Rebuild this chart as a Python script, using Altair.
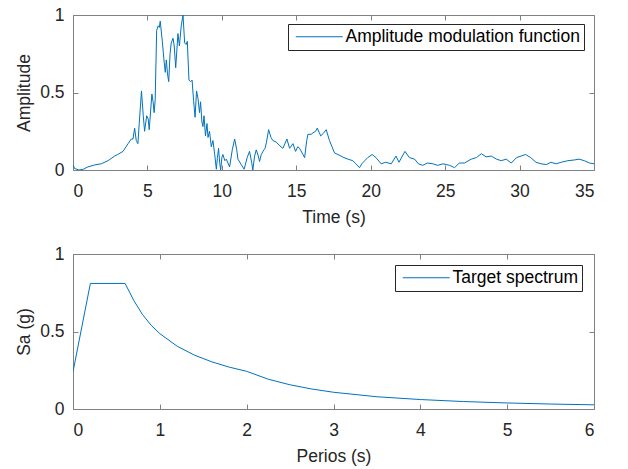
import altair as alt
import pandas as pd

# ---- data: amplitude modulation function ----
time_s = [0.0, 0.1, 0.4, 0.7, 1.0, 1.47, 1.9, 2.35, 2.8, 3.0, 3.36, 3.7, 3.92, 4.03,
          4.14, 4.25, 4.36, 4.45, 4.6, 4.72, 4.81, 4.95, 5.05, 5.12, 5.3, 5.38, 5.45,
          5.52, 5.62, 5.72, 5.8, 5.86, 6.0, 6.1, 6.2, 6.27, 6.35, 6.43, 6.52, 6.6,
          6.72, 6.8, 6.9, 7.05, 7.15, 7.27, 7.39, 7.5, 7.6, 7.68, 7.79, 7.9, 8.0,
          8.1, 8.2, 8.3, 8.4, 8.5, 8.57, 8.66, 8.73, 8.8, 8.9, 9.0, 9.07, 9.17,
          9.29, 9.4, 9.52, 9.63, 9.7, 9.78, 9.85, 9.92, 10.0, 10.07, 10.2, 10.3,
          10.52, 10.7, 10.86, 11.0, 11.08, 11.3, 11.5, 11.7, 11.86, 12.0, 12.08,
          12.2, 12.31, 12.45, 12.53, 12.65, 12.76, 12.9, 13.0, 13.14, 13.3, 13.43,
          13.65, 13.85, 14.1, 14.37, 14.55, 14.78, 14.95, 15.1, 15.22, 15.45,
          15.56, 15.7, 15.78, 16.0, 16.12, 16.3, 16.41, 16.55, 16.64, 16.85,
          17.01, 17.23, 17.4, 17.57, 17.8, 18.0, 18.2, 18.47, 18.8, 19.0, 19.25,
          19.4, 19.6, 19.8, 20.1, 20.35, 20.7, 21.0, 21.38, 21.7, 21.9, 22.3,
          22.6, 22.95, 23.2, 23.5, 23.8, 24.18, 24.5, 24.85, 25.3, 25.63, 25.95,
          26.3, 26.75, 27.1, 27.43, 27.75, 28.1, 28.45, 28.77, 29.1, 29.44, 29.8,
          30.1, 30.4, 30.75, 31.1, 31.45, 31.8, 32.1, 32.46, 32.8, 33.24, 33.7,
          34.0, 34.35, 34.7, 35.0]
amplitude = [0.035, 0.01, 0.0, 0.005, 0.02, 0.033, 0.04, 0.06, 0.09, 0.10, 0.12, 0.17,
             0.20, 0.20, 0.27, 0.19, 0.17, 0.30, 0.51, 0.35, 0.25, 0.35, 0.33, 0.26,
             0.49, 0.44, 0.37, 0.45, 0.90, 0.93, 0.92, 0.96, 0.83, 0.72, 0.63, 0.71,
             0.62, 0.57, 0.75, 0.82, 0.85, 0.80, 0.66, 0.88, 0.80, 0.93, 1.0, 0.82,
             0.81, 0.83, 0.58, 0.57, 0.58, 0.45, 0.34, 0.51, 0.46, 0.37, 0.44, 0.31,
             0.28, 0.35, 0.22, 0.30, 0.21, 0.25, 0.15, 0.19, 0.10, 0.005, 0.08, 0.14,
             0.05, 0.0, 0.08, 0.10, 0.06, 0.07, 0.02, 0.13, 0.20, 0.13, 0.07, 0.035,
             0.005, 0.08, 0.12, 0.05, 0.0, 0.09, 0.13, 0.09, 0.055, 0.10, 0.12, 0.14,
             0.18, 0.26, 0.21, 0.19, 0.18, 0.16, 0.14, 0.20, 0.14, 0.17, 0.12, 0.15,
             0.14, 0.10, 0.08, 0.19, 0.23, 0.23, 0.24, 0.25, 0.27, 0.24, 0.22, 0.24,
             0.26, 0.19, 0.15, 0.11, 0.10, 0.09, 0.08, 0.07, 0.06, 0.04, 0.015, 0.04,
             0.06, 0.08, 0.10, 0.08, 0.04, 0.05, 0.04, 0.09, 0.05, 0.12, 0.08, 0.07,
             0.04, 0.03, 0.045, 0.04, 0.03, 0.04, 0.03, 0.015, 0.045, 0.045, 0.07,
             0.08, 0.105, 0.085, 0.09, 0.07, 0.06, 0.07, 0.045, 0.08, 0.09, 0.10,
             0.08, 0.05, 0.04, 0.035, 0.05, 0.04, 0.05, 0.06, 0.065, 0.07, 0.06,
             0.045, 0.04]

# ---- data: target spectrum ----
period_s = [0.0, 0.2, 0.6, 0.7, 0.8, 0.9, 1.0, 1.2, 1.4, 1.6, 1.8, 2.0, 2.25, 2.5,
            2.75, 3.0, 3.5, 4.0, 4.5, 5.0, 5.5, 6.0]
sa_g = [0.24, 0.81, 0.81, 0.70, 0.61, 0.54, 0.486, 0.405, 0.347, 0.304, 0.27, 0.243,
        0.192, 0.156, 0.129, 0.108, 0.079, 0.061, 0.048, 0.039, 0.032, 0.027]

time_ticks = [0, 5, 10, 15, 20, 25, 30, 35]
period_ticks = [0, 1, 2, 3, 4, 5, 6]
amp_ticks = [0, 0.5, 1]

LINE = "#0072BD"
FRAME = "#808080"
TXT = "#262626"
FONT = "Liberation Sans"
FS = 17.5


def panel(df, xdom, xticks, xtitle, ytitle, name, lx, ly):
    base = alt.Chart(df)
    xs = alt.Scale(domain=xdom, nice=False, zero=False)
    ys = alt.Scale(domain=[0, 1], nice=False)
    common = dict(grid=False, domain=False, tickSize=5, tickColor=FRAME, tickWidth=1, offset=-5)
    line = base.mark_line(strokeWidth=1, clip=True).encode(
        x=alt.X("x:Q", scale=xs,
                axis=alt.Axis(orient="bottom", values=xticks, title=xtitle, labelPadding=12,
                              titlePadding=9, format="~g", **common)),
        y=alt.Y("y:Q", scale=ys,
                axis=alt.Axis(orient="left", values=amp_ticks, title=ytitle, labelPadding=9,
                              titlePadding=6, format=".1~f", **common)),
        color=alt.Color("series:N", scale=alt.Scale(domain=[name], range=[LINE]),
                        legend=alt.Legend(orient="none", legendX=lx, legendY=ly, title=None,
                                          symbolType="M-1,0H8.4", symbolSize=100,
                                          symbolStrokeWidth=1, labelFontSize=FS,
                                          labelFont=FONT, labelColor="#000000",
                                          labelLimit=0, labelOffset=36, padding=4,
                                          strokeColor=TXT, fillColor="#ffffff",
                                          cornerRadius=0)),
    )
    frame_ticks = base.mark_line(opacity=0).encode(
        x=alt.X("x:Q", scale=xs,
                axis=alt.Axis(orient="top", values=xticks, title=None, labels=False, **common)),
        y=alt.Y("y:Q", scale=ys,
                axis=alt.Axis(orient="right", values=amp_ticks, title=None, labels=False, **common)),
    )
    return alt.layer(line, frame_ticks).resolve_axis(x="independent", y="independent").properties(
        width=521, height=155)


df1 = pd.DataFrame({"x": time_s, "y": amplitude, "series": "Amplitude modulation function"})
df2 = pd.DataFrame({"x": period_s, "y": sa_g, "series": "Target spectrum"})

top = panel(df1, [0, 35], time_ticks, "Time (s)", "Amplitude", "Amplitude modulation function", 215, 9)
bottom = panel(df2, [0, 6], period_ticks, "Perios (s)", "Sa (g)", "Target spectrum", 322, 11)

chart = alt.vconcat(top, bottom, spacing=84, bounds="flush").resolve_scale(
    color="independent", x="independent"
).configure_view(stroke=FRAME, strokeWidth=1).configure_axis(
    labelFont=FONT, labelFontSize=FS, labelColor=TXT, titleFont=FONT, titleFontSize=FS,
    titleColor=TXT, titleFontWeight="normal"
).properties(padding={"left": 15, "top": 5, "right": 5, "bottom": 5}, background="white")

chart.save("out.html", embed_options={"renderer": "svg", "actions": False})
